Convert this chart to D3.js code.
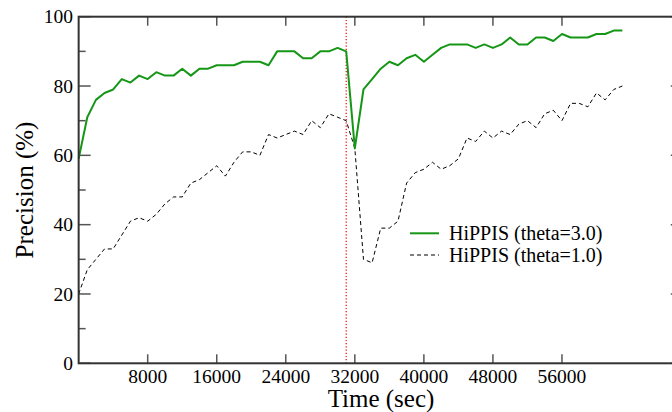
<!DOCTYPE HTML>
<html>
<head>
<meta charset="utf-8">
<title>HiPPIS precision</title>
<script type="text/javascript" src="https://d3js.org/d3.v7.min.js"></script>
<style>
body { margin: 0; background: #fff; }
svg { display: block; font-family: "Liberation Serif", "Times New Roman", serif; }
</style>
</head>
<body>
<div class="chart"></div>
<script>
// sample times (sec)
const times = [0, 1000, 2000, 3000, 4000, 5000, 6000, 7000, 8000, 9000,
  10000, 11000, 12000, 13000, 14000, 15000, 16000, 17000, 18000, 19000,
  20000, 21000, 22000, 23000, 24000, 25000, 26000, 27000, 28000, 29000,
  30000, 31000, 32000, 33000, 34000, 35000, 36000, 37000, 38000, 39000,
  40000, 41000, 42000, 43000, 44000, 45000, 46000, 47000, 48000, 49000,
  50000, 51000, 52000, 53000, 54000, 55000, 56000, 57000, 58000, 59000,
  60000, 61000, 62000, 63000];

// precision (%) theta=3.0
const theta3 = [59, 71, 76, 78, 79, 82, 81, 83, 82, 84,
  83, 83, 85, 83, 85, 85, 86, 86, 86, 87,
  87, 87, 86, 90, 90, 90, 88, 88, 90, 90,
  91, 90, 62, 79, 82, 85, 87, 86, 88, 89,
  87, 89, 91, 92, 92, 92, 91, 92, 91, 92,
  94, 92, 92, 94, 94, 93, 95, 94, 94, 94,
  95, 95, 96, 96];

// precision (%) theta=1.0
const theta1 = [20, 27, 30, 33, 33, 37, 41, 42, 41, 43,
  46, 48, 48, 52, 53, 55, 57, 54, 58, 61,
  61, 60, 66, 65, 66, 67, 66, 70, 68, 72,
  71, 70, 62, 30, 29, 39, 39, 41, 52, 55,
  56, 58, 56, 57, 59, 65, 64, 67, 65, 67,
  66, 69, 70, 68, 72, 73, 70, 75, 75, 74,
  78, 76, 79, 80];

const xTicks = [8000, 16000, 24000, 32000, 40000, 48000, 56000];
const yMajor = [0, 20, 40, 60, 80, 100];
const yMinor = [10, 30, 50, 70, 90];
const markerTime = 31000;
const legendLabels = ["HiPPIS (theta=3.0)", "HiPPIS (theta=1.0)"];

width = 672;
height = 412;

const x = d3.scaleLinear().domain([0, 70000]).range([78.65, 682.8]);
const y = d3.scaleLinear().domain([0, 100]).range([363.3, 16.7]);

const svg = d3.select(".chart").append("svg")
    .attr("width", width)
    .attr("height", height)
    .attr("viewBox", [0, 0, width, height]);

const frameColor = "#333";
const tickColor = "#555";

// marker line
svg.append("line")
    .attr("x1", x(markerTime)).attr("x2", x(markerTime))
    .attr("y1", y(100)).attr("y2", y(0))
    .attr("stroke", "#ff0000")
    .attr("stroke-width", 1.2)
    .attr("stroke-dasharray", "1.2,2");

// ticks
const ticks = svg.append("g").attr("stroke", tickColor).attr("stroke-width", 1.5);
xTicks.forEach(t => {
  ticks.append("line").attr("x1", x(t)).attr("x2", x(t)).attr("y1", y(0)).attr("y2", y(0) - 9);
  ticks.append("line").attr("x1", x(t)).attr("x2", x(t)).attr("y1", y(100)).attr("y2", y(100) + 9);
});
yMajor.forEach(v => {
  ticks.append("line").attr("x1", x(0)).attr("x2", x(0) + 12).attr("y1", y(v)).attr("y2", y(v));
  ticks.append("line").attr("x1", x(70000)).attr("x2", x(70000) - 12).attr("y1", y(v)).attr("y2", y(v));
});
yMinor.forEach(v => {
  ticks.append("line").attr("x1", x(0)).attr("x2", x(0) + 7).attr("y1", y(v)).attr("y2", y(v));
  ticks.append("line").attr("x1", x(70000)).attr("x2", x(70000) - 7).attr("y1", y(v)).attr("y2", y(v));
});

// series
const line = d3.line()
    .x((d, i) => x(times[i]))
    .y(d => y(d));

svg.append("path")
    .datum(theta1)
    .attr("fill", "none")
    .attr("stroke", "#000")
    .attr("stroke-width", 1)
    .attr("stroke-dasharray", "4,3")
    .attr("d", line);

svg.append("path")
    .datum(theta3)
    .attr("fill", "none")
    .attr("stroke", "#169616")
    .attr("stroke-width", 2)
    .attr("stroke-linejoin", "round")
    .attr("d", line);

// frame
svg.append("rect")
    .attr("x", x(0)).attr("y", y(100))
    .attr("width", x(70000) - x(0))
    .attr("height", y(0) - y(100))
    .attr("fill", "none")
    .attr("stroke", frameColor)
    .attr("stroke-width", 2);

// tick labels
svg.append("g")
    .selectAll("text")
    .data(yMajor)
    .join("text")
    .attr("x", 73)
    .attr("y", d => y(d) + 6.6)
    .attr("text-anchor", "end")
    .attr("font-size", 19.5)
    .attr("fill", "#000")
    .text(d => d);

svg.append("g")
    .selectAll("text")
    .data(xTicks)
    .join("text")
    .attr("x", d => x(d))
    .attr("y", 382.5)
    .attr("text-anchor", "middle")
    .attr("font-size", 19.5)
    .attr("fill", "#000")
    .text(d => d);

// axis titles
svg.append("text")
    .attr("transform", "translate(33," + ((y(0) + y(100)) / 2) + ") rotate(-90)")
    .attr("text-anchor", "middle")
    .attr("font-size", 25)
    .text("Precision (%)");

svg.append("text")
    .attr("x", 381)
    .attr("y", 407)
    .attr("text-anchor", "middle")
    .attr("font-size", 25)
    .text("Time (sec)");

// legend
const legend = svg.append("g");
const styles = [
  {stroke: "#169616", width: 2, dash: null},
  {stroke: "#000", width: 1, dash: "4,3"}
];
legendLabels.forEach((label, i) => {
  const ly = 233.3 + i * 21.7;
  legend.append("line")
      .attr("x1", 410).attr("x2", 439)
      .attr("y1", ly).attr("y2", ly)
      .attr("stroke", styles[i].stroke)
      .attr("stroke-width", styles[i].width)
      .attr("stroke-dasharray", styles[i].dash);
  legend.append("text")
      .attr("x", 449)
      .attr("y", ly + 6.8)
      .attr("font-size", 20)
      .text(label);
});
</script>
</body>
</html>
